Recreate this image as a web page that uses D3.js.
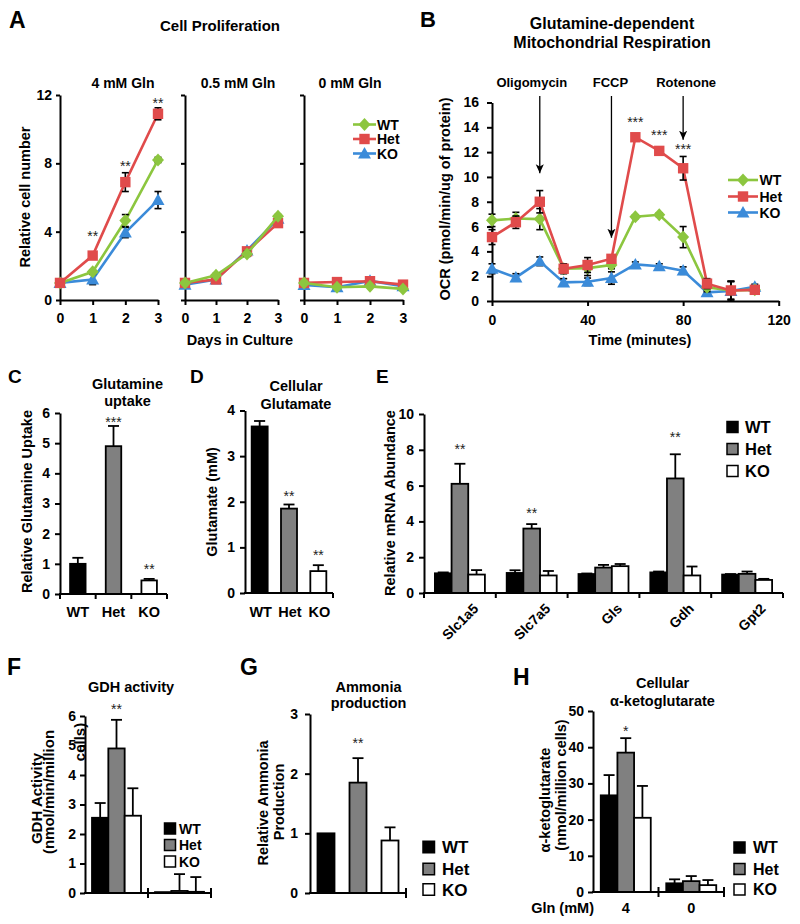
<!DOCTYPE html>
<html>
<head>
<meta charset="utf-8">
<script src="https://cdn.jsdelivr.net/npm/d3@7/dist/d3.min.js"></script>
<style>
  html, body { margin: 0; padding: 0; background: #fff; }
  svg { display: block; font-family: "Liberation Sans", Arial, Helvetica, sans-serif; }
</style>
</head>
<body>
<svg id="chart" width="800" height="924"></svg>
<script>
// ---------------- shared ----------------
const genotypes = ["WT", "Het", "KO"];
const lineColors = ["#8cc63f", "#e04b4b", "#3b8bd9"];
const barFills = ["#000000", "#808080", "#ffffff"];
const markerShapes = ["diamond", "square", "triangle"];

// ---------------- A: cell proliferation ----------------
const prolifDays = [0, 1, 2, 3];
const prolifConditions = ["4 mM Gln", "0.5 mM Gln", "0 mM Gln"];
const prolifTicks = [0, 4, 8, 12];
const prolifWT  = [[1.0, 1.65, 4.65, 8.2], [1.0, 1.45, 2.7, 4.9], [1.0, 0.75, 0.8, 0.65]];
const prolifHet = [[1.0, 2.6, 6.9, 10.9], [1.0, 1.2, 2.85, 4.5], [1.0, 1.05, 1.1, 0.9]];
const prolifKO  = [[1.0, 1.2, 3.95, 5.85], [0.9, 1.2, 2.9, 4.75], [0.88, 0.75, 1.12, 0.8]];
const prolifWTErr  = [[0.05, 0.1, 0.35, 0.15], [0.05, 0.1, 0.15, 0.1], [0.05, 0.05, 0.05, 0.05]];
const prolifHetErr = [[0.05, 0.15, 0.55, 0.35], [0.05, 0.1, 0.1, 0.15], [0.05, 0.05, 0.05, 0.05]];
const prolifKOErr  = [[0.05, 0.3, 0.3, 0.5], [0.05, 0.1, 0.1, 0.15], [0.05, 0.05, 0.05, 0.05]];
const prolifStars = ["", "**", "**", "**"];
const prolifStarLevels = [0, 3.9, 8.0, 11.7];

// ---------------- B: OCR ----------------
const ocrTime = [0, 10, 20, 30, 40, 50, 60, 70, 80, 90, 100, 110];
const ocrWT  = [6.5, 6.65, 6.6, 2.6, 2.65, 2.9, 6.8, 6.95, 5.15, 1.1, 0.85, 0.9];
const ocrHet = [5.15, 6.35, 8.0, 2.6, 2.9, 3.4, 13.2, 12.1, 10.7, 1.4, 0.85, 0.9];
const ocrKO  = [2.6, 1.9, 3.2, 1.5, 1.55, 1.85, 2.95, 2.8, 2.45, 0.7, 0.8, 1.15];
const ocrWTErr  = [0.5, 0.5, 0.85, 0.35, 0.6, 0.3, 0.15, 0.15, 0.85, 0.35, 0.7, 0.2];
const ocrHetErr = [0.6, 0.5, 0.9, 0.4, 0.6, 0.3, 0.2, 0.2, 0.95, 0.4, 0.75, 0.25];
const ocrKOErr  = [0.4, 0.3, 0.35, 0.3, 0.3, 0.5, 0.2, 0.2, 0.3, 0.2, 0.8, 0.2];
const ocrTicksY = [0, 2, 4, 6, 8, 10, 12, 14, 16];
const ocrTicksX = [0, 40, 80, 120];
const ocrStarTimes = [60, 70, 80];
const ocrStarLevels = [14.7, 13.6, 12.5];
const injectionNames = ["Oligomycin", "FCCP", "Rotenone"];
const injectionTimes = [20, 50, 80];
const injectionTips = [10.3, 5.1, 13.0];

// ---------------- C: glutamine uptake ----------------
const uptake = [1.0, 4.9, 0.45];
const uptakeErr = [0.2, 0.67, 0.05];
const uptakeStars = ["", "***", "**"];
const uptakeStarLevels = [0, 5.8, 0.93];
const uptakeTicks = [0, 1, 2, 3, 4, 5, 6];

// ---------------- D: cellular glutamate ----------------
const glutamate = [3.65, 1.85, 0.48];
const glutamateErr = [0.12, 0.09, 0.13];
const glutamateStars = ["", "**", "**"];
const glutamateStarLevels = [0, 2.19, 0.9];
const glutamateTicks = [0, 1, 2, 3, 4];

// ---------------- E: mRNA ----------------
const genes = ["Slc1a5", "Slc7a5", "Gls", "Gdh", "Gpt2"];
const mrnaWT  = [1.1, 1.12, 1.06, 1.15, 1.03];
const mrnaHet = [6.1, 3.6, 1.42, 6.4, 1.07];
const mrnaKO  = [1.03, 0.98, 1.5, 0.98, 0.73];
const mrnaWTErr  = [0.05, 0.15, 0.03, 0.05, 0.03];
const mrnaHetErr = [1.12, 0.25, 0.15, 1.35, 0.13];
const mrnaKOErr  = [0.25, 0.25, 0.12, 0.5, 0.06];
const mrnaStars = ["**", "**", "", "**", ""];
const mrnaStarLevels = [8.2, 4.64, 0, 8.87, 0];
const mrnaTicks = [0, 2, 4, 6, 8, 10];

// ---------------- F: GDH activity ----------------
const gdhGroups = ["4", "0"];
const gdhWT  = [2.55, 0.03];
const gdhHet = [4.9, 0.07];
const gdhKO  = [2.62, 0.04];
const gdhWTErr  = [0.5, 0.0];
const gdhHetErr = [0.97, 0.57];
const gdhKOErr  = [0.93, 0.5];
const gdhStars = ["**", ""];
const gdhStarLevels = [6.34, 0];
const gdhTicks = [0, 1, 2, 3, 4, 5, 6];

// ---------------- G: ammonia ----------------
const ammonia = [1.0, 1.85, 0.88];
const ammoniaErr = [0.0, 0.41, 0.22];
const ammoniaStars = ["", "**", ""];
const ammoniaStarLevels = [0, 2.56, 0];
const ammoniaTicks = [0, 1, 2, 3];

// ---------------- H: alpha-ketoglutarate ----------------
const akgGroups = ["4", "0"];
const akgWT  = [26.7, 2.4];
const akgHet = [38.5, 3.0];
const akgKO  = [20.5, 1.9];
const akgWTErr  = [5.6, 1.1];
const akgHetErr = [4.0, 1.4];
const akgKOErr  = [8.8, 1.4];
const akgStars = ["*", ""];
const akgStarLevels = [45.3, 0];
const akgTicks = [0, 10, 20, 30, 40, 50];

// =====================================================
const svg = d3.select("#chart");
const intFmt = d3.format("d");

function txt(x, y, s, size, anchor, weight) {
  return svg.append("text").attr("x", x).attr("y", y).text(s)
    .attr("font-size", size || 14)
    .attr("font-weight", weight || "bold")
    .attr("text-anchor", anchor || "middle")
    .attr("fill", "#000");
}
function rtxt(cx, cy, s, size) {
  return svg.append("text").attr("transform", `translate(${cx},${cy}) rotate(-90)`)
    .attr("text-anchor", "middle").attr("dy", "0.35em")
    .attr("font-size", size || 14.5).attr("font-weight", "bold").attr("fill", "#000").text(s);
}
function star(x, yCenter, s) {
  if (!s) return;
  txt(x, yCenter + 8, s, 14, "middle", "normal").attr("fill", "#222");
}
function styleAxis(g, size) {
  g.attr("font-family", null).attr("font-size", null);
  g.select(".domain").attr("stroke", "#000").attr("stroke-width", 2);
  g.selectAll(".tick line").attr("stroke", "#000").attr("stroke-width", 2);
  g.selectAll(".tick text").attr("fill", "#000").attr("font-size", size || 14).attr("font-weight", "bold");
}
function seg(x1, y1, x2, y2, w, c) {
  svg.append("line").attr("x1", x1).attr("y1", y1).attr("x2", x2).attr("y2", y2)
    .attr("stroke", c || "#000").attr("stroke-width", w || 2);
}
function markerPath(shape) {
  if (shape === "diamond") return "M0,-6.5L6,0L0,6.5L-6,0Z";
  if (shape === "square") return "M-5.2,-5.2H5.2V5.2H-5.2Z";
  return "M0,-6.5L6.5,5L-6.5,5Z";
}
function drawSeries(x, y, xs, vals, errs, color, shape) {
  const pts = xs.map((t, i) => [t, vals[i]]);
  svg.append("path").datum(pts)
    .attr("d", d3.line().x(d => x(d[0])).y(d => y(d[1])))
    .attr("fill", "none").attr("stroke", color).attr("stroke-width", 2.6);
  xs.forEach((t, i) => {
    const e = errs[i];
    if (!e) return;
    const cx = x(t);
    seg(cx, y(vals[i] - e), cx, y(vals[i] + e), 1.6);
    seg(cx - 3.5, y(vals[i] + e), cx + 3.5, y(vals[i] + e), 1.6);
    seg(cx - 3.5, y(vals[i] - e), cx + 3.5, y(vals[i] - e), 1.6);
  });
  svg.append("g").selectAll("path").data(pts).join("path")
    .attr("transform", d => `translate(${x(d[0])},${y(d[1])})`)
    .attr("d", markerPath(shape)).attr("fill", color);
}
function lineLegend(x1, x2, textX, rows, size) {
  genotypes.forEach((gt, i) => {
    const cy = rows[i];
    seg(x1, cy, x2, cy, 2.6, lineColors[i]);
    svg.append("path").attr("transform", `translate(${(x1 + x2) / 2},${cy})`)
      .attr("d", markerPath(markerShapes[i])).attr("fill", lineColors[i]);
    txt(textX, cy + size * 0.36, gt, size, "start");
  });
}
function boxLegend(bx, textX, rows, size, box) {
  genotypes.forEach((gt, i) => {
    const cy = rows[i];
    svg.append("rect").attr("x", bx).attr("y", cy - box / 2).attr("width", box).attr("height", box)
      .attr("fill", barFills[i]).attr("stroke", "#000").attr("stroke-width", 1.5);
    txt(textX, cy + size * 0.36, gt, size, "start");
  });
}
function yAxisLeft(xPos, y, ticks, pad) {
  const g = svg.append("g").attr("transform", `translate(${xPos},0)`)
    .call(d3.axisLeft(y).tickValues(ticks).tickSize(5).tickSizeOuter(0).tickPadding(pad || 4).tickFormat(intFmt));
  styleAxis(g);
  return g;
}
function bar(x, w, y, v, fill) {
  svg.append("rect").attr("x", x).attr("y", y(v)).attr("width", w)
    .attr("height", Math.max(0.5, y(0) - y(v)))
    .attr("fill", fill).attr("stroke", "#000").attr("stroke-width", 1.8);
}
function errUp(cx, y, v, e, capW) {
  if (!e) return;
  seg(cx, y(v), cx, y(v + e), 1.8);
  seg(cx - capW / 2, y(v + e), cx + capW / 2, y(v + e), 1.8);
}
function baseline(x0, x1, yPix, tickXs, up) {
  seg(x0 - 1, yPix, x1, yPix, 2);
  tickXs.forEach(tx => seg(tx, yPix - (up || 0), tx, yPix + 5, 2));
}
function singleBars(xRange, y, vals, errs, barW, stars, starLevels) {
  const xb = d3.scaleBand().domain(genotypes).range(xRange);
  genotypes.forEach((gt, i) => bar(xb(gt) + (xb.bandwidth() - barW) / 2, barW, y, vals[i], barFills[i]));
  genotypes.forEach((gt, i) => errUp(xb(gt) + xb.bandwidth() / 2, y, vals[i], errs[i], 11));
  genotypes.forEach((gt, i) => star(xb(gt) + xb.bandwidth() / 2, y(starLevels[i]), stars[i]));
  return xb;
}
function groupedBars(groups, xRange, y, series, errSeries, clusterW, stars, starLevels) {
  const xb = d3.scaleBand().domain(groups).range(xRange);
  const inner = d3.scaleBand().domain(genotypes).range([0, clusterW]);
  const off = (xb.bandwidth() - clusterW) / 2;
  groups.forEach((grp, gi) => genotypes.forEach((gt, si) =>
    bar(xb(grp) + off + inner(gt), inner.bandwidth(), y, series[si][gi], barFills[si])));
  groups.forEach((grp, gi) => genotypes.forEach((gt, si) =>
    errUp(xb(grp) + off + inner(gt) + inner.bandwidth() / 2, y, series[si][gi], errSeries[si][gi], 11)));
  groups.forEach((grp, gi) => star(xb(grp) + off + inner("Het") + inner.bandwidth() / 2, y(starLevels[gi]), stars[gi]));
  return xb;
}
function boundaries(xb) {
  const r = xb.range();
  return d3.range(xb.domain().length + 1).map(i => r[0] + i * xb.step());
}

// ================= Panel letters =================
txt(9, 28, "A", 23, "start");
txt(420, 27, "B", 22, "start");
txt(8, 383, "C", 19, "start");
txt(190, 383, "D", 19, "start");
txt(376, 383, "E", 19, "start");
txt(7, 675, "F", 23, "start");
txt(240, 675, "G", 23, "start");
txt(513, 685, "H", 23, "start");

// ================= A =================
txt(220, 30.5, "Cell Proliferation", 15);
const aRanges = [[60, 158], [185, 278], [304, 403]];
const aTitleX = [123, 238, 350];
const yA = d3.scaleLinear().domain([0, 12]).range([300, 95]);
const prolifSeries = [prolifWT, prolifHet, prolifKO];
const prolifErrs = [prolifWTErr, prolifHetErr, prolifKOErr];
prolifConditions.forEach((cond, i) => {
  const xA = d3.scaleLinear().domain([0, 3]).range(aRanges[i]);
  const gy = svg.append("g").attr("transform", `translate(${aRanges[i][0]},0)`)
    .call(d3.axisLeft(yA).tickValues(prolifTicks).tickSize(4).tickPadding(4).tickSizeOuter(0)
      .tickFormat(i === 0 ? intFmt : () => ""));
  styleAxis(gy);
  const gx = svg.append("g").attr("transform", `translate(0,${yA(0)})`)
    .call(d3.axisBottom(xA).tickValues(prolifDays).tickSize(5).tickPadding(8).tickSizeOuter(0).tickFormat(intFmt));
  styleAxis(gx);
  txt(aTitleX[i], 87.5, cond, 14);
  const order = i === 0 ? [2, 0, 1] : [2, 1, 0];
  order.forEach(s => drawSeries(xA, yA, prolifDays, prolifSeries[s][i], prolifErrs[s][i], lineColors[s], markerShapes[s]));
  if (i === 0) prolifDays.forEach((d, k) => star(xA(d), yA(prolifStarLevels[k]), prolifStars[k]));
});
txt(240, 345, "Days in Culture", 14.5);
rtxt(25, 197, "Relative cell number", 14.5);
lineLegend(353, 376, 377, [124.5, 139, 153.5], 14);

// ================= B =================
txt(612, 28.5, "Glutamine-dependent", 16);
txt(612, 47.5, "Mitochondrial Respiration", 16);
const xB = d3.scaleLinear().domain([0, 120]).range([492, 778.7]);
const yB = d3.scaleLinear().domain([0, 16]).range([301, 102.5]);
const gyB = svg.append("g").attr("transform", `translate(${xB(0)},0)`)
  .call(d3.axisLeft(yB).tickValues(ocrTicksY).tickSize(5).tickPadding(8).tickSizeOuter(0).tickFormat(intFmt));
styleAxis(gyB);
const gxB = svg.append("g").attr("transform", `translate(0,${yB(0)})`)
  .call(d3.axisBottom(xB).tickValues(ocrTicksX).tickSize(5).tickPadding(9).tickSizeOuter(0).tickFormat(intFmt));
styleAxis(gxB);
const ocrSeries = [ocrWT, ocrHet, ocrKO];
const ocrErrs = [ocrWTErr, ocrHetErr, ocrKOErr];
[2, 0, 1].forEach(s => drawSeries(xB, yB, ocrTime, ocrSeries[s], ocrErrs[s], lineColors[s], markerShapes[s]));
ocrStarTimes.forEach((t, k) => star(xB(t), yB(ocrStarLevels[k]), "***"));
const defs = svg.append("defs");
defs.append("marker").attr("id", "arrowHead").attr("viewBox", "0 0 10 10")
  .attr("refX", 10).attr("refY", 5).attr("markerWidth", 9).attr("markerHeight", 9)
  .attr("markerUnits", "userSpaceOnUse").attr("orient", "auto")
  .append("path").attr("d", "M0,0.5L10,5L0,9.5L2.5,5Z").attr("fill", "#000");
const injLabelDx = [-8, -1, 3];
injectionNames.forEach((nm, i) => {
  const ax = xB(injectionTimes[i]);
  svg.append("line").attr("x1", ax).attr("x2", ax).attr("y1", 96).attr("y2", yB(injectionTips[i]))
    .attr("stroke", "#000").attr("stroke-width", 1.3).attr("marker-end", "url(#arrowHead)");
  txt(ax + injLabelDx[i], 86.5, nm, 13);
});
txt(640, 345, "Time (minutes)", 14.5);
rtxt(445, 199, "OCR (pmol/min/ug of protein)", 14.5);
lineLegend(728, 758, 759.5, [180, 196.5, 212.5], 14);

// ================= C =================
txt(127.5, 389, "Glutamine", 14.5);
txt(127.5, 405.5, "uptake", 14.5);
const yC = d3.scaleLinear().domain([0, 6]).range([594, 413]);
const xC = singleBars([60, 167], yC, uptake, uptakeErr, 15.5, uptakeStars, uptakeStarLevels);
yAxisLeft(60, yC, uptakeTicks, 5);
baseline(60, 167, yC(0), boundaries(xC));
genotypes.forEach(gt => txt(xC(gt) + xC.bandwidth() / 2, 617, gt, 14.5));
rtxt(27, 501.5, "Relative Glutamine Uptake", 14.5);

// ================= D =================
txt(296, 391, "Cellular", 14.5);
txt(296, 409, "Glutamate", 14.5);
const yD = d3.scaleLinear().domain([0, 4]).range([593, 410.5]);
const xD = singleBars([245, 333], yD, glutamate, glutamateErr, 16, glutamateStars, glutamateStarLevels);
yAxisLeft(245, yD, glutamateTicks, 5);
baseline(245, 333, yD(0), [333]);
genotypes.forEach(gt => txt(xD(gt) + xD.bandwidth() / 2 + 1, 617, gt, 14.5));
rtxt(212, 502, "Glutamate (mM)", 14.5);

// ================= E =================
const yE = d3.scaleLinear().domain([0, 10]).range([593, 414]);
const xE = groupedBars(genes, [424, 783], yE, [mrnaWT, mrnaHet, mrnaKO], [mrnaWTErr, mrnaHetErr, mrnaKOErr], 50, mrnaStars, mrnaStarLevels);
yAxisLeft(424, yE, mrnaTicks, 5);
baseline(424, 783, yE(0), boundaries(xE));
genes.forEach(gn => {
  const cx = xE(gn) + xE.bandwidth() / 2;
  svg.append("text").attr("transform", `translate(${cx + 16},${606}) rotate(-45)`)
    .attr("text-anchor", "end").attr("dy", "0.35em")
    .attr("font-size", 14).attr("font-weight", "bold").text(gn);
});
rtxt(390, 503, "Relative mRNA Abundance", 14.5);
boxLegend(727, 745, [427, 449, 471], 16.5, 11);

// ================= F =================
txt(131, 692, "GDH activity", 14.5);
const yF = d3.scaleLinear().domain([0, 6]).range([893, 716]);
const xF = groupedBars(gdhGroups, [85, 211], yF, [gdhWT, gdhHet, gdhKO], [gdhWTErr, gdhHetErr, gdhKOErr], 49, gdhStars, gdhStarLevels);
yAxisLeft(85, yF, gdhTicks, 4);
baseline(85, 211, yF(0), boundaries(xF).slice(1), 5);
rtxt(37, 798.5, "GDH Activity", 15);
rtxt(49, 792, "(nmol/min/million", 15);
rtxt(80, 742, "cells)", 15);
boxLegend(164.5, 179, [828.5, 845, 861.5], 14, 11);

// ================= G =================
txt(368.5, 692, "Ammonia", 14.5);
txt(368.5, 707.5, "production", 14.5);
const yG = d3.scaleLinear().domain([0, 3]).range([893, 714]);
singleBars([310, 406], yG, ammonia, ammoniaErr, 17, ammoniaStars, ammoniaStarLevels);
yAxisLeft(310, yG, ammoniaTicks, 7);
baseline(310, 406, yG(0), [406], 5);
rtxt(263, 803, "Relative Ammonia", 14.5);
rtxt(279, 802, "Production", 14.5);
boxLegend(423, 442, [847, 869, 889.5], 17, 11.5);

// ================= H =================
txt(662.5, 688, "Cellular", 14.5);
txt(662.5, 706, "α-ketoglutarate", 14.5);
const yH = d3.scaleLinear().domain([0, 50]).range([892, 711]);
const xH = groupedBars(akgGroups, [593, 724], yH, [akgWT, akgHet, akgKO], [akgWTErr, akgHetErr, akgKOErr], 50, akgStars, akgStarLevels);
yAxisLeft(593, yH, akgTicks, 4);
baseline(593, 724, yH(0), boundaries(xH).slice(1), 5);
akgGroups.forEach(gp => txt(xH(gp) + xH.bandwidth() / 2, 913, gp, 14.5));
txt(594, 913, "Gln (mM)", 14.5, "end");
rtxt(545, 800, "α-ketoglutarate", 14.5);
rtxt(561, 785, "(nmol/million cells)", 14.5);
boxLegend(734, 753, [847.5, 869, 889.5], 16, 11);
</script>
</body>
</html>
